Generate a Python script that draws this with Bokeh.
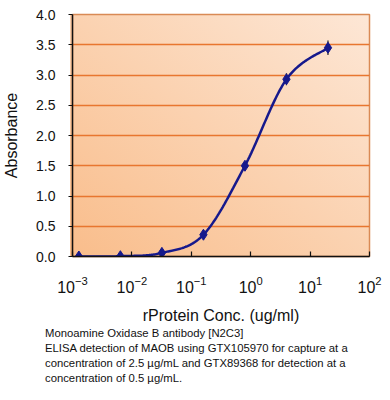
import numpy as np
from bokeh.plotting import figure
from bokeh.models import FixedTicker, Div, PrintfTickFormatter
from bokeh.layouts import column
from bokeh.embed import file_html
from bokeh.resources import INLINE

# Data
conc = [0.00128, 0.0064, 0.032, 0.16, 0.8, 4.0, 20.0]
absorbance = [0.0, 0.005, 0.06, 0.36, 1.50, 2.93, 3.45]
err = [0.0, 0.0, 0.01, 0.02, 0.04, 0.10, 0.12]
x_ticks = [1e-3, 1e-2, 1e-1, 1e0, 1e1, 1e2]
y_ticks = [0.0, 0.5, 1.0, 1.5, 2.0, 2.5, 3.0, 3.5, 4.0]
caption_lines = [
    "Monoamine Oxidase B antibody [N2C3]",
    "ELISA detection of MAOB using GTX105970 for capture at a",
    "concentration of 2.5 \u00b5g/mL and GTX89368 for detection at a",
    "concentration of 0.5 \u00b5g/mL.",
]

FONT = "Liberation Sans"

# Excel-style smoothed line (Catmull-Rom Bezier) in log-x / y space
u = np.log10(np.array(conc))
v = np.array(absorbance)
pts = np.column_stack([u, v])
ext = np.vstack([pts[0], pts, pts[-1]])
curve = []
for i in range(len(pts) - 1):
    p0, p1, p2, p3 = ext[i], ext[i + 1], ext[i + 2], ext[i + 3]
    c1 = p1 + (p2 - p0) / 6.0
    c2 = p2 - (p3 - p1) / 6.0
    t = np.linspace(0, 1, 40)[:, None]
    seg = ((1 - t) ** 3) * p1 + 3 * ((1 - t) ** 2) * t * c1 + 3 * (1 - t) * t ** 2 * c2 + t ** 3 * p2
    curve.append(seg if i == 0 else seg[1:])
curve = np.vstack(curve)
cx = 10 ** curve[:, 0]
cy = curve[:, 1]

p = figure(width=385, height=326, x_axis_type="log",
           x_range=(1e-3, 1e2), y_range=(0, 4),
           output_backend="svg", toolbar_location=None,
           min_border_left=70, min_border_right=16, min_border_top=14, min_border_bottom=69)

p.border_fill_alpha = 0
p.background_fill_alpha = 0
p.styles = {
    "background": "linear-gradient(to top right, #F9BD8B, #FDE7D6) 70px 14px / 299px 243px no-repeat, #FFFFFF"
}
p.outline_line_color = "#D98A55"
p.outline_line_width = 1.5

p.xgrid.grid_line_color = None
p.ygrid.grid_line_color = "#E8762F"
p.ygrid.grid_line_width = 1.5
p.ygrid.ticker = FixedTicker(ticks=y_ticks)

p.xaxis.ticker = FixedTicker(ticks=x_ticks, minor_ticks=[])
p.yaxis.ticker = FixedTicker(ticks=y_ticks, minor_ticks=[])
p.yaxis.formatter = PrintfTickFormatter(format="%.1f")

for ax in (p.xaxis, p.yaxis):
    ax.axis_line_color = "#111111"
    ax.axis_line_width = 1.5
    ax.major_tick_line_color = "#111111"
    ax.major_tick_line_width = 1.2
    ax.minor_tick_line_color = None
    ax.major_label_text_font = FONT
    ax.major_label_text_color = "#111111"
    ax.axis_label_text_font = FONT
    ax.axis_label_text_font_style = "normal"
    ax.axis_label_text_color = "#111111"
    ax.axis_label_text_font_size = "16px"

p.xaxis.major_tick_in = 5
p.xaxis.major_tick_out = 0
p.xaxis.major_label_text_font_size = "16px"
p.xaxis.major_label_standoff = 19
p.xaxis.axis_label = "rProtein Conc. (ug/ml)"
p.xaxis.axis_label_standoff = 11

p.yaxis.major_tick_in = 0
p.yaxis.major_tick_out = 4
p.yaxis.major_label_text_font_size = "14px"
p.yaxis.major_label_standoff = 13
p.yaxis.axis_label = "Absorbance"
p.yaxis.axis_label_standoff = 13

p.line(cx, cy, line_color="#16198C", line_width=2.5)
p.segment(x0=conc, x1=conc,
          y0=[a - e for a, e in zip(absorbance, err)],
          y1=[a + e for a, e in zip(absorbance, err)],
          line_color="#222222", line_width=1.2)
p.scatter(conc, absorbance, marker="diamond", size=11,
          fill_color="#16198C", line_color="#16198C")

caption = Div(
    text="<br>".join(caption_lines),
    width=385, height=66, margin=0,
    styles={"font-family": FONT, "font-size": "11.3px", "line-height": "15px",
            "color": "#111111", "padding-left": "45px"},
)

layout = column(p, caption, spacing=0)

open("out.html", "w").write(file_html(layout, INLINE))
